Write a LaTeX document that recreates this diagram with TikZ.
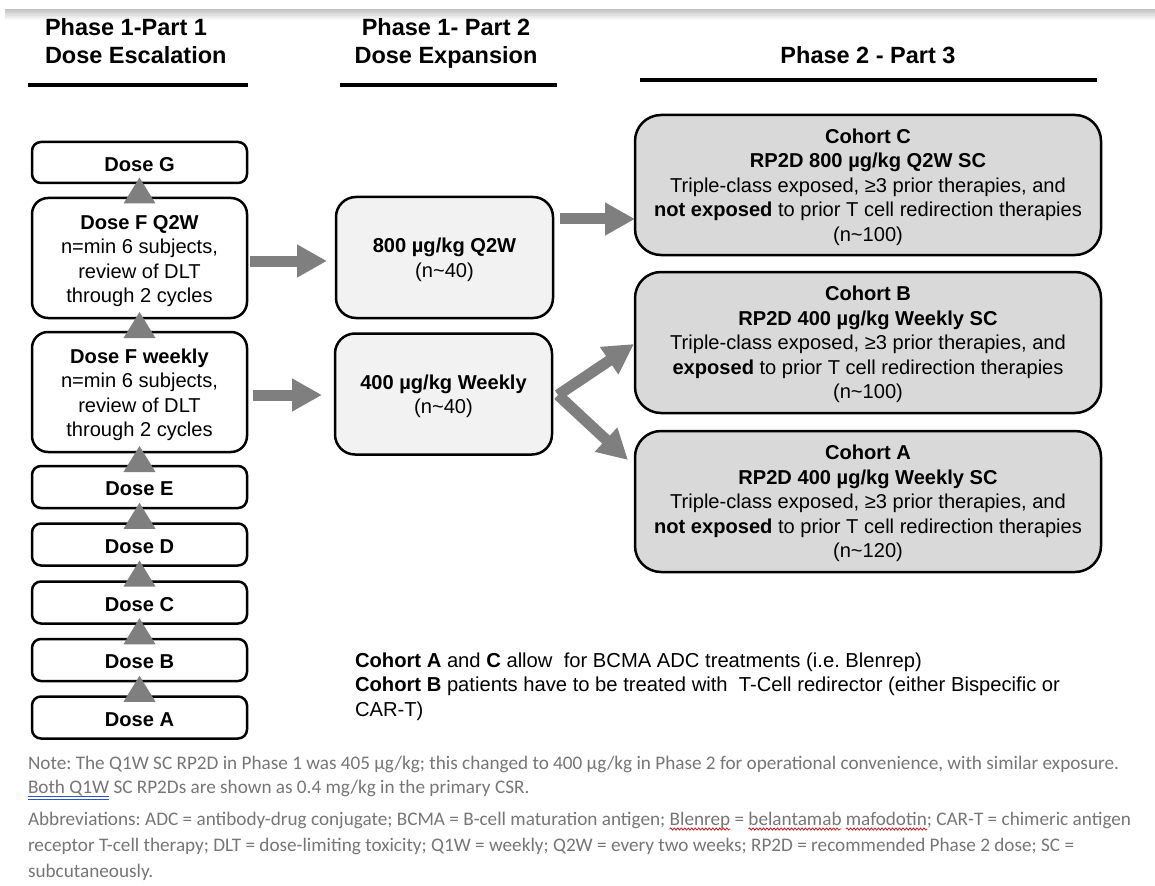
\documentclass[tikz,border=0pt]{standalone}
\usepackage{fontspec}
\setmainfont{Liberation Sans}
\newfontfamily\fnfont{Carlito}
\usetikzlibrary{arrows.meta,calc,decorations.pathmorphing}
\definecolor{arrgray}{RGB}{127,127,127}
\definecolor{cohortfill}{RGB}{217,217,217}
\definecolor{midfill}{RGB}{242,242,242}
\definecolor{fngray}{RGB}{118,118,118}
\definecolor{ulblue}{RGB}{47,84,200}
\definecolor{ulred}{RGB}{220,30,30}
\newcommand{\tstrut}[1]{\rule{0pt}{#1}}
\frenchspacing
\begin{document}
\begin{tikzpicture}[x=1pt,y=-1pt,
 every node/.style={inner sep=0pt, outer sep=0pt},
 body/.style={font=\fontsize{20.1}{24.5}\selectfont, align=center},
 dosebox/.style={body, draw, line width=2.5pt, rounded corners=9pt, minimum width=215pt, fill=white},
 midbox/.style={body, draw, line width=2.5pt, rounded corners=20pt, fill=midfill, minimum width=217pt, minimum height=121pt},
 cohortbox/.style={body, draw, line width=2.5pt, rounded corners=26pt, fill=cohortfill, minimum width=466pt, minimum height=140pt},
 header/.style={font=\fontsize{23.5}{28}\selectfont\bfseries},
 bar/.style={line width=4.5pt},
 blockarrow/.style={draw=arrgray, line width=11pt, -{Triangle[width=31pt,length=30pt]}},
 uptri/.style={fill=arrgray},
 fn/.style={font=\fnfont\fontsize{19.2}{24}\selectfont, text=fngray, anchor=base west},
 dblul/.style={ulblue, line width=0.9pt},
 wavyul/.style={ulred, line width=0.8pt, decorate, decoration={snake, amplitude=1.1pt, segment length=3.5pt}},
]
\useasboundingbox (0,0) rectangle (1155,885);
\fill[white] (0,0) rectangle (1155,885);
\shade[top color=black!22, bottom color=white] (5,10) rectangle (1155,20);

% headers
\node[header, anchor=base west] (h1a) at (45,35.5) {Phase 1-Part 1};
\node[header, anchor=base west] (h1b) at (45,63.5) {Dose Escalation};
\node[header, anchor=base] (h2a) at (446,35.5) {Phase 1- Part 2};
\node[header, anchor=base] (h2b) at (446,63.5) {Dose Expansion};
\node[header, anchor=base] (h3) at (868,63.5) {Phase 2 - Part 3};
\draw[bar] (28,85) -- (248,85);
\draw[bar] (340,85) -- (557,85);
\draw[bar] (640,80) -- (1097,80);

% dose escalation column
\node[dosebox, minimum height=41pt] (dG) at (139.5,162.5) {\tstrut{17.5pt}\textbf{Dose G}};
\node[dosebox, minimum height=120pt, rounded corners=16pt] (dFQ) at (139.5,258) {\tstrut{20.5pt}\textbf{Dose F Q2W}\\n=min 6 subjects,\\review of DLT\\through 2 cycles};
\node[dosebox, minimum height=120pt, rounded corners=16pt] (dFW) at (139.5,392) {\tstrut{20.5pt}\textbf{Dose F weekly}\\n=min 6 subjects,\\review of DLT\\through 2 cycles};
\node[dosebox, minimum height=42pt] (dE) at (139.5,487) {\tstrut{17.5pt}\textbf{Dose E}};
\node[dosebox, minimum height=42pt] (dD) at (139.5,544.5) {\tstrut{17.5pt}\textbf{Dose D}};
\node[dosebox, minimum height=42pt] (dC) at (139.5,602.5) {\tstrut{17.5pt}\textbf{Dose C}};
\node[dosebox, minimum height=42pt] (dB) at (139.5,660) {\tstrut{17.5pt}\textbf{Dose B}};
\node[dosebox, minimum height=42pt] (dA) at (139.5,717.5) {\tstrut{17.5pt}\textbf{Dose A}};
\foreach \lo/\hi in {dA/dB,dB/dC,dC/dD,dD/dE,dE/dFW,dFW/dFQ,dFQ/dG} {
  \fill[uptri] ($(\lo.north)!0.5!(\hi.south)+(0,-13)$) -- ($(\lo.north)!0.5!(\hi.south)+(-16,13)$) -- ($(\lo.north)!0.5!(\hi.south)+(16,13)$) -- cycle;
}

% dose expansion
\node[midbox] (m800) at (444.5,257.5) {\tstrut{19.5pt}\textbf{800 µg/kg Q2W}\\(n\textasciitilde 40)};
\node[midbox] (m400) at (443.5,394) {\tstrut{19.5pt}\textbf{400 µg/kg Weekly}\\(n\textasciitilde 40)};

% cohorts
\node[cohortbox] (cC) at (868,185) {\tstrut{19pt}\textbf{Cohort C}\\\textbf{RP2D 800 µg/kg Q2W SC}\\Triple-class exposed, ≥3 prior therapies, and\\\textbf{not exposed} to prior T cell redirection therapies\\(n\textasciitilde 100)};
\node[cohortbox, minimum height=141pt] (cB) at (868,342.5) {\tstrut{19pt}\textbf{Cohort B}\\\textbf{RP2D 400 µg/kg Weekly SC}\\Triple-class exposed, ≥3 prior therapies, and\\\textbf{exposed} to prior T cell redirection therapies\\(n\textasciitilde 100)};
\node[cohortbox, minimum height=141pt] (cA) at (868,501.5) {\tstrut{19pt}\textbf{Cohort A}\\\textbf{RP2D 400 µg/kg Weekly SC}\\Triple-class exposed, ≥3 prior therapies, and\\\textbf{not exposed} to prior T cell redirection therapies\\(n\textasciitilde 120)};

% arrows
\draw[blockarrow] ($(dFQ.east)+(3,3)$) -- ($(m800.west)+(-9,3.5)$);
\draw[blockarrow] ($(dFW.east)+(6,3)$) -- ($(m400.west)+(-13,1)$);
\draw[blockarrow] ($(m800.east)+(7,-38.5)$) -- ($(cC.west)+(0,34)$);
\draw[blockarrow] ($(m400.east)+(6,1)$) -- ($(cB.west)+(-1,1.5)$);
\draw[blockarrow] ($(m400.east)+(6,1)$) -- ($(cA.west)+(-7,-41.5)$);

% note
\node[body, font=\fontsize{20.2}{24.5}\selectfont, align=left, anchor=north west] (note) at (355,652.5) {\textbf{Cohort A} and \textbf{C} allow\ \ for BCMA ADC treatments (i.e. Blenrep)\\\textbf{Cohort B} patients have to be treated with\ \ T-Cell redirector (either Bispecific or\\CAR-T)};

% footnotes
\node[fn] (f1) at (28,769) {Note: The Q1W SC RP2D in Phase 1 was 405 µg/kg; this changed to 400 µg/kg in Phase 2 for operational convenience, with similar exposure.};
\node[fn] (f2a) at (28,793) {Both Q1W};
\node[fn] (f2b) at (f2a.base east) {\ SC RP2Ds are shown as 0.4 mg/kg in the primary CSR.};
\draw[dblul] ($(f2a.base west)+(0,3.5)$) -- ($(f2a.base east)+(0,3.5)$);
\draw[dblul] ($(f2a.base west)+(0,6)$) -- ($(f2a.base east)+(0,6)$);
\node[fn] (f3a) at (28,825) {Abbreviations: ADC = antibody-drug conjugate; BCMA = B-cell maturation antigen;};
\node[fn] (f3b) at ($(f3a.base east)+(4.3,0)$) {Blenrep};
\node[fn] (f3c) at ($(f3b.base east)+(4.3,0)$) {=};
\node[fn] (f3d) at ($(f3c.base east)+(4.3,0)$) {belantamab};
\node[fn] (f3e) at ($(f3d.base east)+(4.3,0)$) {mafodotin};
\node[fn] (f3f) at (f3e.base east) {; CAR-T = chimeric antigen};
\foreach \w in {f3b,f3d,f3e} {
  \draw[wavyul] ($(\w.base west)+(0,4)$) -- ($(\w.base east)+(0,4)$);
}
\node[fn] (f4) at (28,851) {receptor T-cell therapy; DLT = dose-limiting toxicity; Q1W = weekly; Q2W = every two weeks; RP2D = recommended Phase 2 dose; SC =};
\node[fn] (f5) at (28,877) {subcutaneously.};
\end{tikzpicture}
\end{document}
